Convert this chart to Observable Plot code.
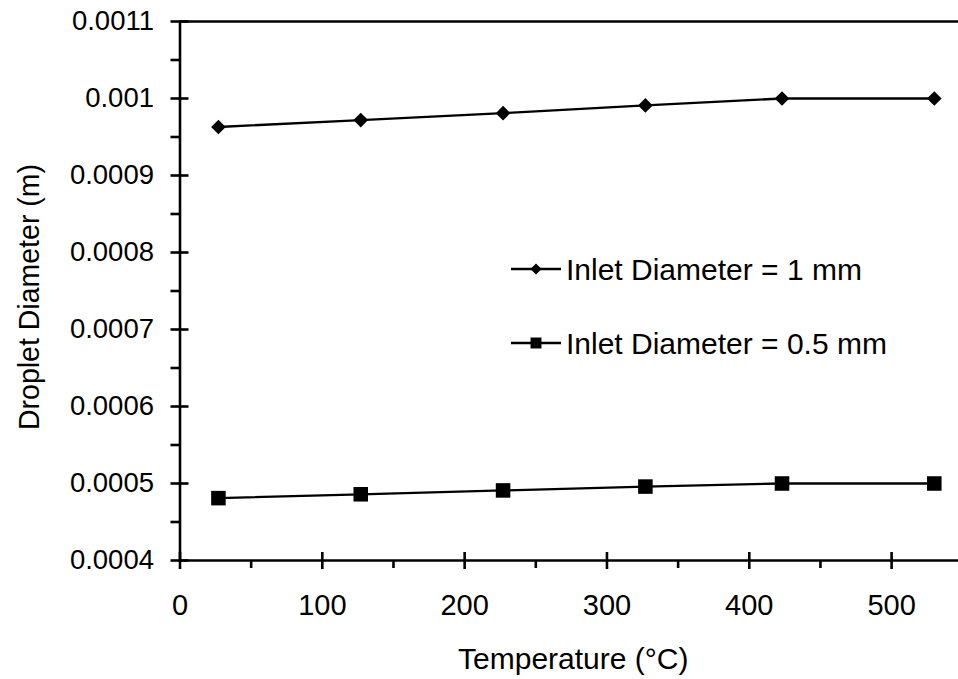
<!DOCTYPE html>
<html>
<head>
<meta charset="utf-8">
<script src="https://cdn.jsdelivr.net/npm/d3@7"></script>
<script src="https://cdn.jsdelivr.net/npm/@observablehq/plot@0.6"></script>
<style>
  html, body { margin: 0; padding: 0; background: #fff; }
  #chart { position: relative; width: 958px; height: 679px; }
  svg { font-family: "Liberation Sans", Arial, sans-serif; }
  g[aria-label$="tick"] { stroke-width: 2.6px; }
</style>
</head>
<body>
<div id="chart"></div>
<script>
// Data
const temperatures = [27, 127, 227, 327, 423, 530];
const diameter1mm = [0.000963, 0.000972, 0.000981, 0.000991, 0.0010, 0.0010];
const diameter05mm = [0.000481, 0.000486, 0.000491, 0.000496, 0.0005, 0.0005];
const seriesNames = ["Inlet Diameter = 1 mm", "Inlet Diameter = 0.5 mm"];
const xMajorTicks = [0, 100, 200, 300, 400, 500];
const xMinorTicks = [50, 150, 250, 350, 450];
const yMajorTicks = [0.0004, 0.0005, 0.0006, 0.0007, 0.0008, 0.0009, 0.001, 0.0011];
const yMinorTicks = [0.00045, 0.00055, 0.00065, 0.00075, 0.00085, 0.00095, 0.00105];
const xTitle = "Temperature (°C)";
const yTitle = "Droplet Diameter (m)";

const s1 = temperatures.map((t, i) => ({t, d: diameter1mm[i], s: seriesNames[0]}));
const s2 = temperatures.map((t, i) => ({t, d: diameter05mm[i], s: seriesNames[1]}));

const W = 958, H = 679;
const SW = 2.6;
const fmt = d => String(+d.toFixed(5));

const plot = Plot.plot({
  width: W,
  height: H,
  marginLeft: 179.5,
  marginRight: 0,
  marginTop: 21,
  marginBottom: 119,
  style: {fontFamily: "'Liberation Sans', Arial, sans-serif", color: "#000", background: "#fff"},
  x: {domain: [0, 547]},
  y: {domain: [0.0004, 0.0011]},
  marks: [
    // y ticks
    Plot.axisY(yMajorTicks, {tickSize: 18, dx: 9, fill: "none", label: null, strokeWidth: SW}),
    Plot.axisY(yMinorTicks, {tickSize: 9, fill: "none", label: null, strokeWidth: SW}),
    Plot.axisY(yMajorTicks, {tickSize: 0, tickPadding: 26, tickFormat: fmt, fontSize: 27.5, label: null, fill: "#000"}),
    // x ticks
    Plot.axisX(xMajorTicks, {tickSize: 17, dy: -8, fill: "none", label: null, strokeWidth: SW}),
    Plot.axisX(xMinorTicks, {tickSize: 8, fill: "none", label: null, strokeWidth: SW}),
    Plot.axisX(xMajorTicks, {tickSize: 0, tickPadding: 34, fontSize: 29, label: null, fill: "#000"}),
    // frame lines
    Plot.ruleX([0], {stroke: "#000", strokeWidth: SW}),
    Plot.ruleY([0.0004], {stroke: "#000", strokeWidth: SW}),
    Plot.ruleY([0.0011], {stroke: "#000", strokeWidth: SW}),
    // series
    Plot.line(s1, {x: "t", y: "d", stroke: "#000", strokeWidth: 2.3}),
    Plot.dot(s1, {x: "t", y: "d", symbol: "diamond2", r: 6.6, fill: "#000", stroke: "none"}),
    Plot.line(s2, {x: "t", y: "d", stroke: "#000", strokeWidth: 2.3}),
    Plot.dot(s2, {x: "t", y: "d", symbol: "square", r: 8.2, fill: "#000", stroke: "none"}),
    // axis titles
    Plot.text([xTitle], {frameAnchor: "bottom", dx: 4, dy: 99, fontSize: 30, fill: "#000", lineAnchor: "middle"}),
    Plot.text([yTitle], {frameAnchor: "left", textAnchor: "middle", dx: -150, dy: 6, rotate: -90, fontSize: 29, fill: "#000", lineAnchor: "middle"})
  ]
});

document.getElementById("chart").appendChild(plot);

const svg = d3.select(plot);
// stretch the y title to the reference length
svg.selectAll("text").filter(function() { return this.textContent === yTitle; })
  .attr("textLength", 266).attr("lengthAdjust", "spacingAndGlyphs");

// Legend
const leg = svg.append("g")
  .attr("font-family", "'Liberation Sans', Arial, sans-serif")
  .attr("font-size", 30)
  .attr("text-anchor", "start");
const items = [
  {name: seriesNames[0], sym: d3.symbolDiamond2, size: 80, y: 269},
  {name: seriesNames[1], sym: d3.symbolSquare, size: 120, y: 343}
];
items.forEach(it => {
  const g = leg.append("g").attr("transform", `translate(0,${it.y})`);
  g.append("line").attr("x1", 511).attr("x2", 561).attr("y1", 0).attr("y2", 0).attr("stroke", "#000").attr("stroke-width", 2.3);
  g.append("path").attr("d", d3.symbol(it.sym, it.size)()).attr("transform", "translate(536,0)").attr("fill", "#000");
  g.append("text").attr("x", 566).attr("y", 0).attr("dy", "0.36em").attr("text-anchor", "start").attr("fill", "#000").text(it.name);
});
</script>
</body>
</html>
